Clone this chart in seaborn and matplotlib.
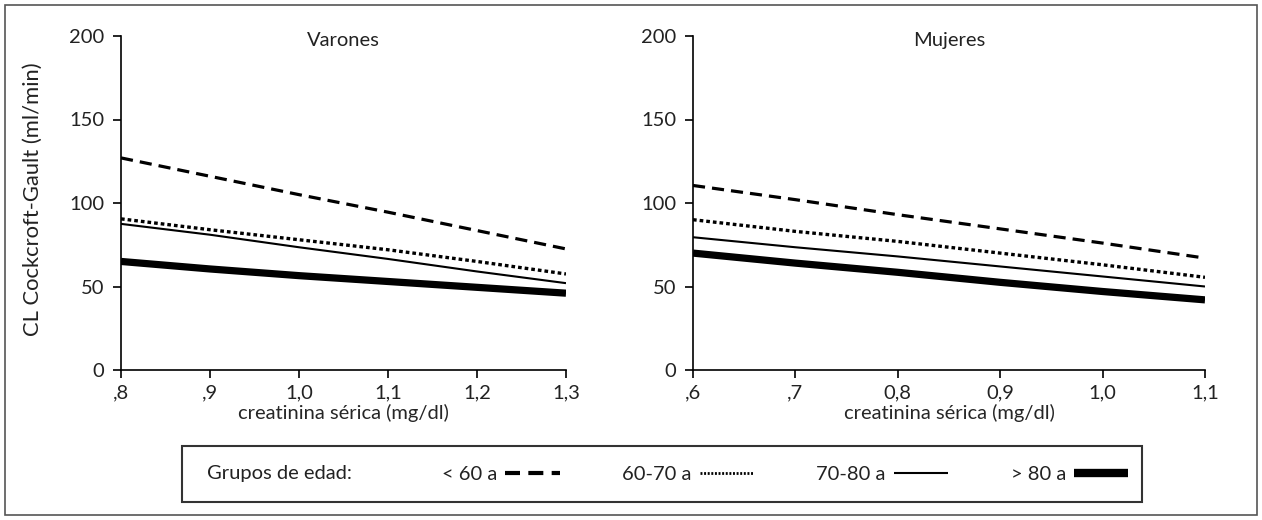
import matplotlib
matplotlib.use("Agg")
import matplotlib.pyplot as plt
from matplotlib.lines import Line2D
from matplotlib.patches import Rectangle
import seaborn as sns
import pandas as pd

# ---- data ----
groups = ["< 60 a", "60-70 a", "70-80 a", "> 80 a"]

x_varones = [0.8, 0.9, 1.0, 1.1, 1.2, 1.3]
varones_lt60 = [127, 116, 105, 94.5, 83.5, 72.5]
varones_60_70 = [90.5, 84, 78, 72, 65, 57.5]
varones_70_80 = [87.5, 81, 73.5, 66.5, 59, 52]
varones_gt80 = [65, 60.5, 56.5, 53, 49.5, 46]

x_mujeres = [0.6, 0.7, 0.8, 0.9, 1.0, 1.1]
mujeres_lt60 = [110.5, 102, 93, 84.5, 76, 67]
mujeres_60_70 = [90, 83, 77, 70, 63, 55.5]
mujeres_70_80 = [79.5, 73.5, 68, 62, 56, 50]
mujeres_gt80 = [70, 64, 58.5, 52.5, 47, 42]

xticklabels_varones = [",8", ",9", "1,0", "1,1", "1,2", "1,3"]
xticklabels_mujeres = [",6", ",7", "0,8", "0,9", "1,0", "1,1"]
yticks = [0, 50, 100, 150, 200]

styles = {
    "< 60 a": dict(ls=(0, (3.8, 2.2)), lw=2.3),
    "60-70 a": dict(ls=(0, (1.1, 0.9)), lw=2.4),
    "70-80 a": dict(ls="-", lw=1.5),
    "> 80 a": dict(ls="-", lw=5.2),
}
legend_styles = {
    "< 60 a": dict(ls=(0, (3.6, 2.0)), lw=3.0),
    "60-70 a": dict(ls=(0, (0.7, 0.6)), lw=2.0),
    "70-80 a": dict(ls="-", lw=1.5),
    "> 80 a": dict(ls="-", lw=6.0),
}

FS = 14.5
sns.set_theme(style="white")
plt.rcParams["font.family"] = ["Lato", "DejaVu Sans"]
plt.rcParams["text.color"] = "#222222"

fig = plt.figure(figsize=(12.62, 5.2), dpi=100)
W, H = 1262, 520
ax1 = fig.add_axes([121 / W, 1 - 370 / H, 445 / W, 334 / H])
ax2 = fig.add_axes([693 / W, 1 - 370 / H, 512 / W, 334 / H])

panels = [
    (ax1, x_varones, [varones_lt60, varones_60_70, varones_70_80, varones_gt80],
     xticklabels_varones, "Varones"),
    (ax2, x_mujeres, [mujeres_lt60, mujeres_60_70, mujeres_70_80, mujeres_gt80],
     xticklabels_mujeres, "Mujeres"),
]

for ax, xs, series, xtl, title in panels:
    for g, ys in zip(groups, series):
        df = pd.DataFrame({"x": xs, "y": ys})
        sns.lineplot(data=df, x="x", y="y", ax=ax, color="black",
                     linestyle=styles[g]["ls"], linewidth=styles[g]["lw"],
                     solid_capstyle="butt", dash_capstyle="butt")
    ax.set_xlim(xs[0], xs[-1])
    ax.set_ylim(0, 200)
    ax.set_xticks(xs)
    ax.set_xticklabels(xtl)
    ax.set_yticks(yticks)
    ax.set_yticklabels([str(v) for v in yticks])
    for s in ["top", "right"]:
        ax.spines[s].set_visible(False)
    for s in ["left", "bottom"]:
        ax.spines[s].set_color("black")
        ax.spines[s].set_linewidth(1.2)
    ax.tick_params(axis="both", which="major", direction="out", length=6,
                   width=1.2, color="black", labelsize=FS, labelcolor="#222222",
                   bottom=True, left=True, pad=6)
    ax.tick_params(axis="x", pad=4)
    ax.set_xlabel("creatinina sérica (mg/dl)", fontsize=FS, labelpad=2)
    ax.set_ylabel("")
    ax.text(0.5, 1.012, title, transform=ax.transAxes, ha="center", va="top",
            fontsize=FS)
    ax.patch.set_alpha(0)

fig.text(33 / W, 1 - 199 / H, "CL Cockcroft-Gault (ml/min)", rotation=90,
         ha="center", va="center", fontsize=15.8)

# legend box + title
fig.patches.append(Rectangle((182 / W, 1 - 502 / H), 960 / W, 56 / H,
                             transform=fig.transFigure, fill=False,
                             edgecolor="#333333", linewidth=1.5))
fig.text(207 / W, 1 - 474 / H, "Grupos de edad:", ha="left", va="center",
         fontsize=FS)

handles = []
for g in groups:
    handles.append(Line2D([], [], color="black", linestyle=legend_styles[g]["ls"],
                          linewidth=legend_styles[g]["lw"], solid_capstyle="butt",
                          dash_capstyle="butt"))
leg = fig.legend(handles, groups, ncol=4, loc="center left",
                 bbox_to_anchor=(442 / W, 1 - 474 / H),
                 markerfirst=False, frameon=False,
                 fontsize=FS, handlelength=2.7, handletextpad=0.4,
                 columnspacing=3.1, borderpad=0, borderaxespad=0)

# outer frame
fig.patches.append(Rectangle((5 / W, 5 / H), 1252 / W, 510 / H, transform=fig.transFigure,
                             fill=False, edgecolor="#555555", linewidth=1.2))

fig.savefig("out.png", dpi=100)
